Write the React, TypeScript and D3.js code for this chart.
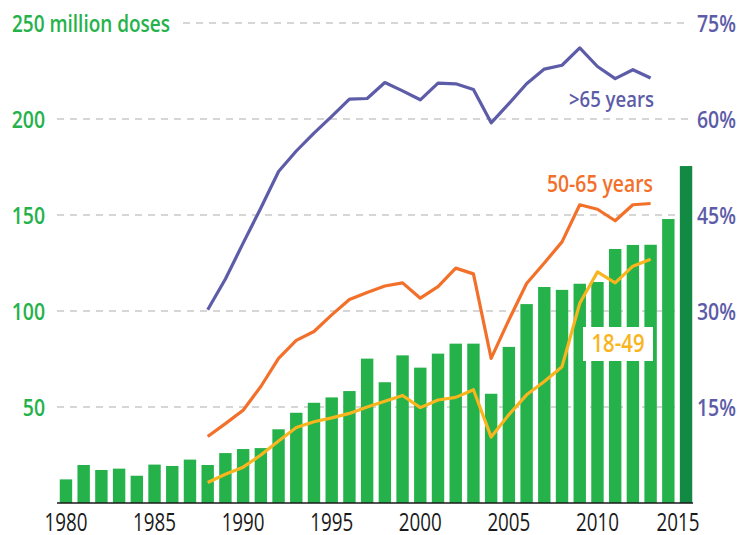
import React from "react";
import * as d3 from "d3";

const years = [1980,1981,1982,1983,1984,1985,1986,1987,1988,1989,1990,1991,1992,1993,1994,1995,1996,1997,1998,1999,2000,2001,2002,2003,2004,2005,2006,2007,2008,2009,2010,2011,2012,2013,2014,2015];
const doses = [12.3,19.8,17.2,17.9,14.2,20,19.3,22.6,19.8,26,28.1,28.6,38.4,47,52.2,55,58.3,75.2,62.9,76.9,70.5,77.8,83,83,56.9,81.3,103.6,112.5,111,114.2,115.1,132.3,134.4,134.5,147.9,175.5];
const highlightYear = 2015;

const lineYears = [1988,1989,1990,1991,1992,1993,1994,1995,1996,1997,1998,1999,2000,2001,2002,2003,2004,2005,2006,2007,2008,2009,2010,2011,2012,2013];
const over65 = [30.2,35,40.6,46.1,51.8,55,57.8,60.4,63.1,63.2,65.7,64.4,63,65.6,65.5,64.6,59.4,62.4,65.5,67.8,68.4,71.1,68.2,66.3,67.7,66.4];
const age50to65 = [10.4,12.4,14.5,18.2,22.6,25.4,26.8,29.4,31.8,32.9,33.9,34.4,32,33.8,36.7,35.8,22.6,28.6,34.3,37.5,40.8,46.6,45.9,44.1,46.6,46.8];
const age18to49 = [3.2,4.5,5.6,7.5,9.7,11.8,12.7,13.3,14,15,15.9,16.8,14.9,16.1,16.5,17.7,10.3,13.8,16.9,19,21.3,31.2,36.1,34.4,37,38.1];

const leftTicks = [50, 100, 150, 200, 250];
const rightTicks = [15, 30, 45, 60, 75];
const xTickYears = [1980, 1985, 1990, 1995, 2000, 2005, 2010, 2015];

const W = 740, H = 535;
const FONT = "'Open Sans', 'Noto Sans', sans-serif";
const GREEN = "#25b24b";
const DARKGREEN = "#138a43";
const PURPLE = "#5d5ca8";
const ORANGE = "#f3702a";
const YELLOW = "#f9b51d";
const GRID = "#c9c9c9";

export default function App() {
  const x = d3.scaleBand<number>().domain(years).range([57.1, 694.9]).paddingInner(0.3).paddingOuter(0.15);
  const yL = d3.scaleLinear().domain([0, 250]).range([503, 23]);
  const yR = d3.scaleLinear().domain([0, 75]).range([503, 23]);
  const cx = (yr: number) => (x(yr) as number) + x.bandwidth() / 2;

  const mkLine = (vals: number[]) =>
    d3.line<number>().x((_, i) => cx(lineYears[i])).y((v) => yR(v))(vals) || "";

  return (
    <div>
      <style>{`body{margin:0}`}</style>
      <svg width={W} height={H} style={{ display: "block", fontFamily: FONT }}>
        <rect width={W} height={H} fill="#fff" />
        {leftTicks.map((t) => (
          <line key={t} x1={t === 250 ? 183 : 57} x2={690} y1={yL(t)} y2={yL(t)} stroke={GRID} strokeWidth={1.5} strokeDasharray="7 6" />
        ))}
        {years.map((yr, i) => (
          <rect key={yr} x={x(yr)} y={yL(doses[i])} width={x.bandwidth()} height={yL(0) - yL(doses[i])} fill={yr === highlightYear ? DARKGREEN : GREEN} />
        ))}
        <line x1={57} x2={693} y1={yL(0)} y2={yL(0)} stroke="#1a1a1a" strokeWidth={1.5} />
        <path d={mkLine(over65)} fill="none" stroke={PURPLE} strokeWidth={3.2} strokeLinejoin="round" />
        <path d={mkLine(age50to65)} fill="none" stroke={ORANGE} strokeWidth={3.2} strokeLinejoin="round" />
        <path d={mkLine(age18to49)} fill="none" stroke={YELLOW} strokeWidth={3.2} strokeLinejoin="round" />

        {leftTicks.filter((t) => t !== 250).map((t) => (
          <text key={t} x={45} y={yL(t)} dy="0.36em" textAnchor="end" fill={GREEN} fontSize={24} fontWeight={600}
            textLength={String(t).length * 11.1} lengthAdjust="spacingAndGlyphs">{t}</text>
        ))}
        <text x={12} y={yL(250)} dy="0.36em" fill={GREEN} fontSize={24} fontWeight={600}
          textLength={158} lengthAdjust="spacingAndGlyphs">250 million doses</text>
        {rightTicks.map((t) => (
          <text key={t} x={697} y={yR(t)} dy="0.36em" fill={PURPLE} fontSize={24} fontWeight={600}
            textLength={39} lengthAdjust="spacingAndGlyphs">{t}%</text>
        ))}
        {xTickYears.map((yr) => (
          <text key={yr} x={cx(yr) - (yr === 2015 ? 8 : 0)} y={531} textAnchor="middle" fill="#1a1a1a" fontSize={25}
            textLength={43} lengthAdjust="spacingAndGlyphs">{yr}</text>
        ))}

        <text x={654} y={107} textAnchor="end" fill={PURPLE} fontSize={22} fontWeight={600}
          textLength={85} lengthAdjust="spacingAndGlyphs">&gt;65 years</text>
        <text x={653} y={192} textAnchor="end" fill={ORANGE} fontSize={23} fontWeight={600}
          textLength={106} lengthAdjust="spacingAndGlyphs">50-65 years</text>
        <rect x={583} y={327} width={70} height={34} fill="#fff" />
        <text x={618} y={352} textAnchor="middle" fill={YELLOW} fontSize={25} fontWeight={600}
          textLength={53} lengthAdjust="spacingAndGlyphs">18-49</text>
      </svg>
    </div>
  );
}
